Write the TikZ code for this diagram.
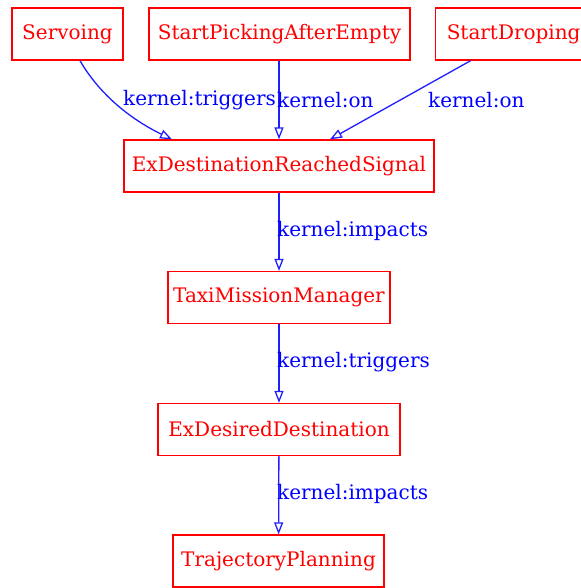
\documentclass[tikz,border=0pt]{standalone}
\usepackage{fontspec}
\setmainfont{DejaVu Serif}
\usetikzlibrary{arrows.meta}
\begin{document}
\begin{tikzpicture}[x=1pt,y=-1pt,
  box/.style={draw={rgb,255:red,255;green,0;blue,0}, text={rgb,255:red,255;green,0;blue,0}, line width=1.3pt, rectangle, inner sep=0pt, minimum height=52pt, font=\fontsize{20}{24}\selectfont},
  edge/.style={draw={rgb,255:red,30;green,30;blue,255}, line width=1.3pt, -{Triangle[open, length=12pt, width=9pt]}},
  lbl/.style={text={rgb,255:red,0;green,0;blue,255}, anchor=west, inner sep=0pt, font=\fontsize{20}{24}\selectfont}]
\useasboundingbox (0,0) rectangle (580,588);
\node[box, minimum width=111pt] (serv) at (67.5,34) {Servoing};
\node[box, minimum width=261pt] (spe) at (279.5,34) {StartPickingAfterEmpty};
\node[box, minimum width=156pt, anchor=west] (sd) at (435,34) {StartDroping};
\node[box, minimum width=310pt] (exd) at (279,166) {ExDestinationReachedSignal};
\node[box, minimum width=222pt] (tmm) at (279,297.5) {TaxiMissionManager};
\node[box, minimum width=242pt] (edd) at (279,429.5) {ExDesiredDestination};
\node[box, minimum width=211pt] (tp) at (278.5,561) {TrajectoryPlanning};
\draw[edge] ([xshift=12.5pt]serv.south) .. controls (98,92) and (128,118) .. ([xshift=-107pt]exd.north);
\draw[edge] ([xshift=-0.5pt]spe.south) -- (exd.north);
\draw[edge] ([xshift=-43pt]sd.south) -- ([xshift=51pt]exd.north);
\draw[edge] (exd) -- (tmm);
\draw[edge] (tmm) -- (edd);
\draw[edge] (edd) -- (tp);
\node[lbl] (l1) at (123,100) {kernel:triggers};
\node[lbl] (l2) at (277,100) {kernel:on};
\node[lbl] (l3) at (428,100) {kernel:on};
\node[lbl] (l4) at (277,231) {kernel:impacts};
\node[lbl] (l5) at (277,362) {kernel:triggers};
\node[lbl] (l6) at (277,494) {kernel:impacts};
\end{tikzpicture}
\end{document}
